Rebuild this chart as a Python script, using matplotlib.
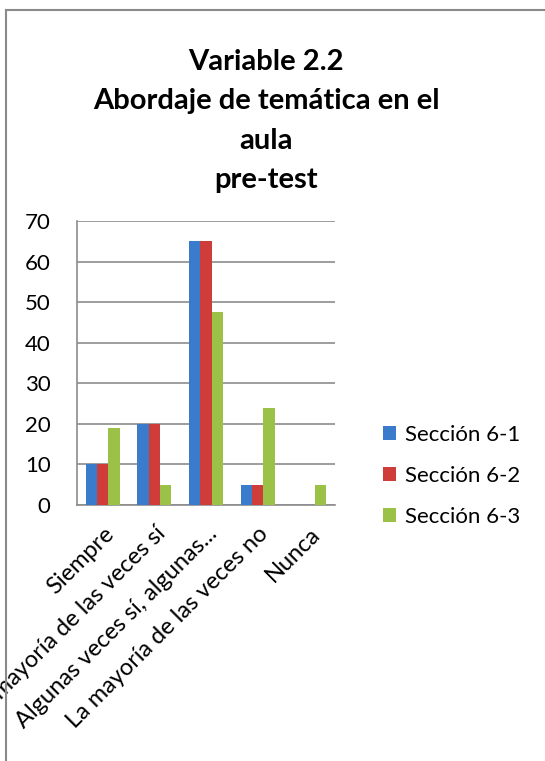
import matplotlib
matplotlib.use('Agg')
from matplotlib import pyplot as plt
from matplotlib.patches import Patch
from matplotlib.lines import Line2D
import numpy as np

categories = ["Siempre", "La mayoría de las veces sí", "Algunas veces sí, algunas...",
              "La mayoría de las veces no", "Nunca"]
series_names = ["Sección 6-1", "Sección 6-2", "Sección 6-3"]
seccion_61 = [10, 20, 65, 5, 0]
seccion_62 = [10, 20, 65, 5, 0]
seccion_63 = [19, 5, 47.6, 24, 5]
yticks = [0, 10, 20, 30, 40, 50, 60, 70]

colors = ["#3a7bcb", "#cf3d3a", "#9bc146"]
FONT = "Lato"

plt.rcParams['font.family'] = [FONT, 'DejaVu Sans']

fig = plt.figure(figsize=(5.45, 7.61), dpi=100)
ax = fig.add_axes([77/545, 1 - 505/761, (335 - 77)/545, (505 - 221)/761])

x = np.arange(len(categories))
w = 0.22
for i, (vals, c, name) in enumerate(zip([seccion_61, seccion_62, seccion_63], colors, series_names)):
    ax.bar(x + (i - 1) * w, vals, width=w, color=c, zorder=3, label=name)

ax.set_xlim(-0.5, len(categories) - 0.5)
ax.set_ylim(0, 70)
ax.set_yticks(yticks)
ax.set_yticklabels([str(v) for v in yticks], fontsize=16)
ax.yaxis.grid(True, color="#8c8c8c", linewidth=1.2, zorder=0)
ax.tick_params(axis='y', length=0, pad=19)
ax.tick_params(axis='x', length=0, pad=13)
ax.set_xticks(x)
ax.set_xticklabels(categories, rotation=45, ha='right', rotation_mode='anchor', fontsize=17)
for s in ["top", "right"]:
    ax.spines[s].set_visible(False)
for s in ["left", "bottom"]:
    ax.spines[s].set_color("#8c8c8c")
    ax.spines[s].set_linewidth(1.2)

# title, one line per row as in the original
title_lines = ["Variable 2.2", "Abordaje de temática en el", "aula", "pre-test"]
title_y = [62, 101, 141, 180]
for t, yy in zip(title_lines, title_y):
    fig.text(266/545, 1 - yy/761, t, ha='center', va='center', fontsize=21, fontweight='bold')

# legend
handles = [Patch(facecolor=c, edgecolor='none') for c in colors]
fig.legend(handles, series_names, loc='center left', bbox_to_anchor=(383/545, 1 - 476/761),
           frameon=False, fontsize=16, handlelength=0.6, handleheight=0.6, borderpad=0,
           borderaxespad=0, handletextpad=0.4, labelspacing=0.95)

# border of the chart area
fig.add_artist(Line2D([6/545, 1], [1 - 10/761, 1 - 10/761], color="#8a8a8a", linewidth=1.5))
fig.add_artist(Line2D([6/545, 6/545], [0, 1 - 10/761], color="#8a8a8a", linewidth=1.5))

fig.savefig("out.png", dpi=100, facecolor='w')
plt.close()
